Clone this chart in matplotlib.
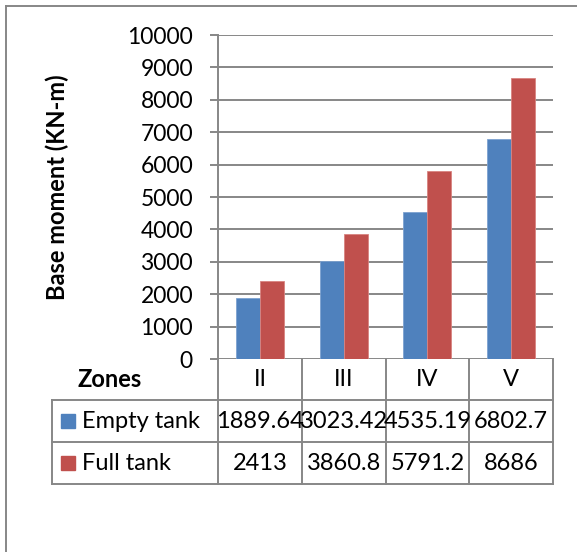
import numpy as np
import matplotlib.pyplot as plt
from matplotlib.lines import Line2D
from matplotlib.patches import Rectangle
from matplotlib.transforms import blended_transform_factory

plt.rcParams['font.family'] = ['Lato', 'DejaVu Sans']

# Base moment for each seismic zone
zones = ['II', 'III', 'IV', 'V']
empty_tank = [1889.64, 3023.42, 4535.19, 6802.7]
full_tank = [2413, 3860.8, 5791.2, 8686]
series_names = ['Empty tank', 'Full tank']
yticks = list(range(0, 10001, 1000))

blue = '#4F81BD'
red = '#C0504D'
grey = '#878787'
fs = 17

W, H = 577, 552
fig = plt.figure(figsize=(W / 100, H / 100), dpi=100)


def fx(px):
    return px / W


def fy(py):
    return 1 - py / H


ax = fig.add_axes([fx(218), fy(359), fx(553) - fx(218), fy(35) - fy(359)])

x = np.arange(len(zones))
w = 1 / 3.5
ax.bar(x - w / 2, empty_tank, w, color=blue, edgecolor='#7da2d0', linewidth=0.6, zorder=3)
ax.bar(x + w / 2, full_tank, w, color=red, edgecolor='#d98481', linewidth=0.6, zorder=3)

ax.set_xlim(-0.5, len(zones) - 0.5)
ax.set_ylim(0, 10000)
ax.set_yticks(yticks)
ax.set_xticks([])
ax.yaxis.grid(True, color=grey, linewidth=1.4)
ax.set_axisbelow(True)
for s in ['top', 'right', 'bottom']:
    ax.spines[s].set_visible(False)
ax.spines['left'].set_color(grey)
ax.spines['left'].set_linewidth(1.4)
ax.tick_params(axis='y', length=6, width=1.4, color=grey, labelsize=16.5, pad=12)
ax.set_ylabel('Base moment (KN-m)', fontsize=fs, fontweight='bold')
ax.yaxis.set_label_coords(-0.445, 0.53)

# data table under the plot
trans = blended_transform_factory(ax.transData, fig.transFigure)
rows = [fy(359), fy(400), fy(442), fy(484)]
mids = [(rows[i] + rows[i + 1]) / 2 for i in range(3)]
x_left = fx(52)
x_right = ax.get_position().x1

for xv in np.arange(len(zones) + 1) - 0.5:
    fig.add_artist(Line2D([xv, xv], [rows[0], rows[-1]], transform=trans,
                          color=grey, linewidth=1.4))
for yv in rows[1:]:
    fig.add_artist(Line2D([x_left, x_right], [yv, yv], color=grey, linewidth=1.4))
fig.add_artist(Line2D([x_left, x_left], [rows[1], rows[-1]], color=grey, linewidth=1.4))

fig.text(fx(110), mids[0], 'Zones', fontsize=fs, fontweight='bold',
         ha='center', va='center')
for i, z in enumerate(zones):
    fig.text(i, mids[0], z, transform=trans, fontsize=fs, ha='center', va='center')
    fig.text(i, mids[1], '{:g}'.format(empty_tank[i]), transform=trans,
             fontsize=fs, ha='center', va='center')
    fig.text(i, mids[2], '{:g}'.format(full_tank[i]), transform=trans,
             fontsize=fs, ha='center', va='center')

for name, color, ym in zip(series_names, [blue, red], mids[1:]):
    fig.add_artist(Rectangle((fx(61), ym - 7 / H), 14 / W, 14 / H, color=color))
    fig.text(fx(82), ym, name, fontsize=fs, ha='left', va='center')

# chart frame
fig.add_artist(Line2D([fx(5.5), 1], [fy(5.5), fy(5.5)], color=grey, linewidth=1.4))
fig.add_artist(Line2D([fx(5.5), fx(5.5)], [fy(5.5), 0], color=grey, linewidth=1.4))

fig.savefig('out.png', dpi=100)
